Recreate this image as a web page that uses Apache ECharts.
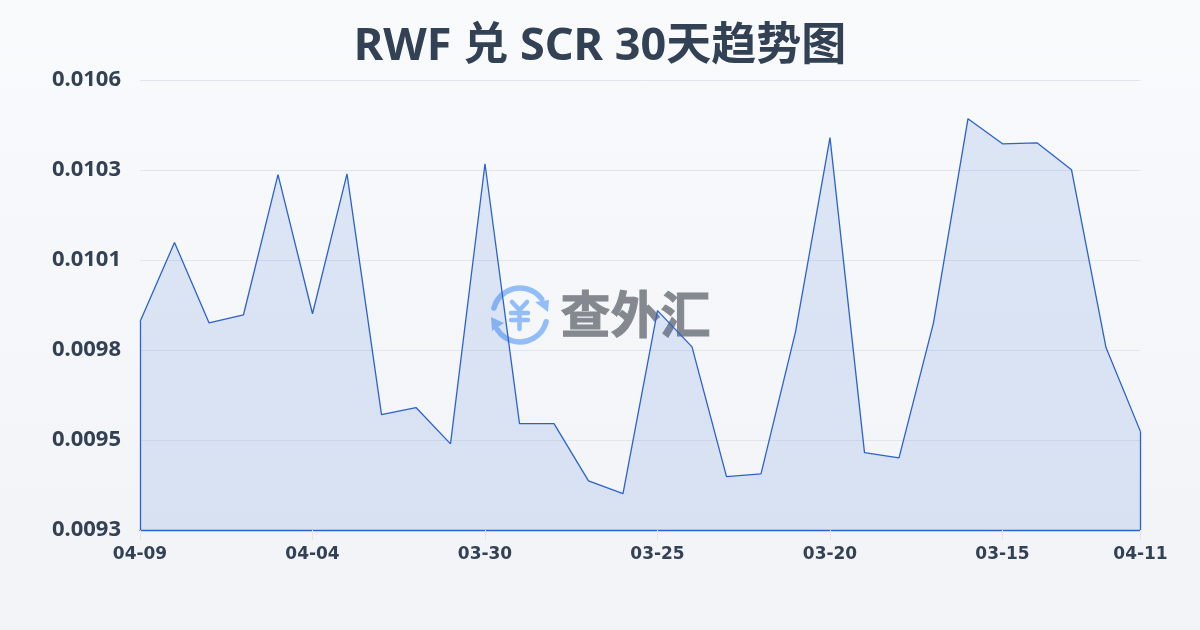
<!DOCTYPE html>
<html>
<head>
<meta charset="utf-8">
<script src="https://cdn.jsdelivr.net/npm/echarts@6/dist/echarts.min.js"></script>
<style>
html,body{margin:0;padding:0;background:#f8fafc;}
#main{width:1200px;height:630px;}
</style>
</head>
<body>
<div id="main"></div>
<script>
var titleText = 'RWF 兑 SCR 30天趋势图';
var dates = ['04-09','04-08','04-07','04-06','04-05','04-04','04-03','04-02','04-01','03-31',
    '03-30','03-29','03-28','03-27','03-26','03-25','03-24','03-23','03-22','03-21',
    '03-20','03-19','03-18','03-17','03-16','03-15','03-14','03-13','03-12','04-11'];
var rates = [0.009885,0.010112,0.009882,0.009905,0.010307,0.009908,0.010309,0.009619,0.009639,0.009535,
    0.010338,0.009593,0.009593,0.009429,0.009392,0.009917,0.009813,0.009441,0.009449,0.009856,
    0.010413,0.009510,0.009495,0.009882,0.010467,0.010395,0.010398,0.010321,0.009811,0.009570];
var yMin = 0.009288, yMax = 0.010578, yStep = 0.000258;

var lineColor = '#2b62cf';
var textColor = '#334155';
var iconColor = '#93bdf8';

function showTick(index){
    return index % 5 === 0 || index === dates.length - 1;
}

var myChart = echarts.init(document.getElementById('main'));
var option = {
    animation: false,
    backgroundColor: new echarts.graphic.LinearGradient(0,0,0,1,[
        {offset:0,color:'#f8fafc'},
        {offset:1,color:'#f1f3f6'}
    ]),
    title: {
        text: titleText,
        left: 'center',
        top: 20,
        textStyle: {
            fontFamily: '"Noto Sans","Noto Sans CJK SC",sans-serif',
            fontSize: 45,
            fontWeight: 'bold',
            color: textColor
        }
    },
    grid: {left: 140, right: 59.5, top: 80, bottom: 100},
    xAxis: {
        type: 'category',
        boundaryGap: false,
        data: dates,
        axisLine: {lineStyle: {color: lineColor, width: 1.3}},
        axisTick: {
            length: 10,
            interval: function(index){ return showTick(index); },
            lineStyle: {color: '#e2e6ec', width: 1}
        },
        axisLabel: {
            interval: function(index){ return showTick(index); },
            hideOverlap: false,
            margin: 16,
            fontFamily: '"DejaVu Sans",sans-serif',
            fontSize: 17,
            fontWeight: 'bold',
            color: textColor
        },
        splitLine: {show: false}
    },
    yAxis: {
        type: 'value',
        min: yMin,
        max: yMax,
        interval: yStep,
        axisLine: {show: false},
        axisTick: {show: false},
        axisLabel: {
            margin: 19,
            fontFamily: '"Noto Sans",sans-serif',
            fontSize: 22,
            fontWeight: 'bold',
            color: textColor,
            formatter: function(value){ return value.toFixed(4); }
        },
        splitLine: {lineStyle: {color: '#e2e6ec', width: 1}}
    },
    graphic: [
        {
            type: 'group',
            z: 0,
            children: [
                {type:'arc', shape:{cx:520,cy:315,r:27,startAngle:-2.88,endAngle:-0.64}, style:{fill:null,stroke:iconColor,lineWidth:5.5,lineCap:'round'}},
                {type:'arc', shape:{cx:520,cy:315,r:27,startAngle:0.25,endAngle:2.56}, style:{fill:null,stroke:iconColor,lineWidth:5.5,lineCap:'round'}},
                {type:'polygon', shape:{points:[[549,300],[548,312],[535,302]]}, style:{fill:iconColor}},
                {type:'polygon', shape:{points:[[491,317],[492,331],[504,323]]}, style:{fill:iconColor}},
                {type:'polyline', shape:{points:[[512,302],[519.5,310],[527,302]]}, style:{fill:null,stroke:iconColor,lineWidth:4.5,lineCap:'round',lineJoin:'round'}},
                {type:'line', shape:{x1:519.5,y1:310,x2:519.5,y2:329}, style:{stroke:iconColor,lineWidth:4.5,lineCap:'round'}},
                {type:'line', shape:{x1:511,y1:313,x2:528,y2:313}, style:{stroke:iconColor,lineWidth:4.5,lineCap:'round'}},
                {type:'line', shape:{x1:511,y1:320,x2:528,y2:320}, style:{stroke:iconColor,lineWidth:4.5,lineCap:'round'}}
            ]
        },
        {
            type: 'text',
            left: 560, top: 289, z: 0,
            style: {text:'查外汇', fontFamily:'"Noto Sans CJK SC",sans-serif', fontSize:50, fontWeight:'bold', fill:'#84888f', stroke:'#84888f', lineWidth:1}
        }
    ],
    series: [{
        type: 'line',
        data: rates,
        z: 5,
        symbol: 'none',
        smooth: false,
        lineStyle: {color: lineColor, width: 1.3},
        areaStyle: {color: 'rgba(43,98,207,0.18)', origin: 'start'},
        markLine: {
            silent: true,
            symbol: 'none',
            label: {show: false},
            lineStyle: {color: lineColor, width: 1.3, type: 'solid'},
            data: [
                [{coord:[dates[0],yMin]},{coord:[dates[0],rates[0]]}],
                [{coord:[dates[dates.length-1],yMin]},{coord:[dates[dates.length-1],rates[rates.length-1]]}]
            ]
        }
    }]
};
myChart.setOption(option);
</script>
</body>
</html>
